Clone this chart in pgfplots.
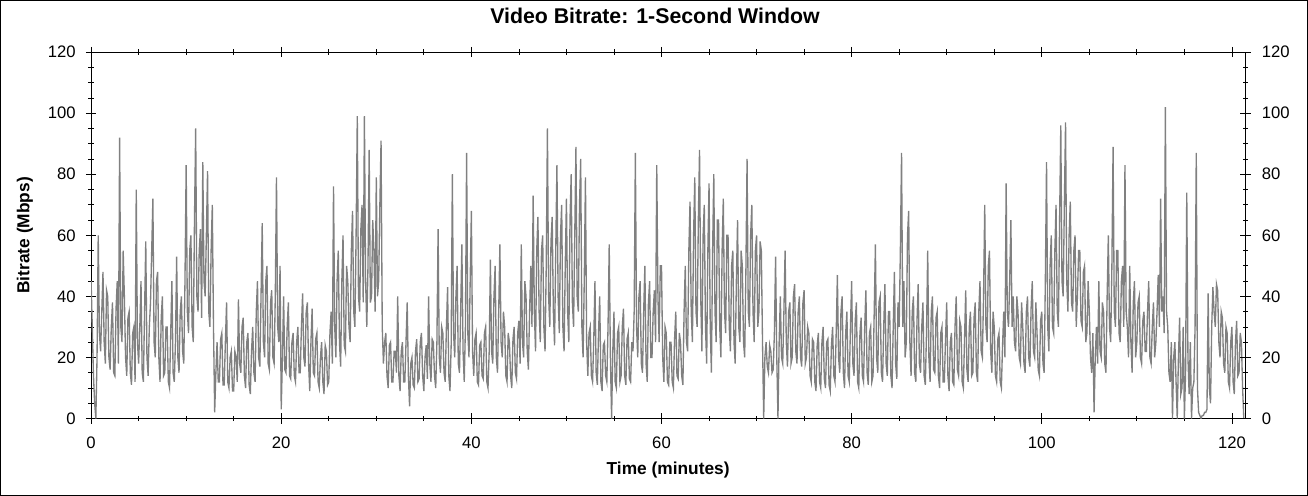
\documentclass[border=0pt]{standalone}
\usepackage{fontspec}
\setmainfont{Liberation Sans}
\usepackage{pgfplots}
\usepackage{pgfplotstable}
\pgfplotsset{compat=1.18}
% Bitrate (Mbps), sampled every 0.125 minute from t = 0 (8 values per minute)
\pgfplotstableread[row sep=\\]{y\\
45\\30\\14\\5\\0\\20\\60\\28\\ 22\\35\\48\\25\\18\\42\\40\\20\\ 16\\30\\38\\15\\14\\36\\45\\18\\
92\\30\\25\\55\\40\\20\\14\\33\\ 35\\15\\11\\28\\30\\12\\75\\25\\ 18\\30\\45\\15\\12\\35\\58\\20\\
14\\30\\38\\55\\72\\25\\20\\45\\ 48\\20\\12\\33\\40\\14\\15\\30\\ 30\\12\\10\\28\\45\\15\\12\\25\\
53\\20\\15\\35\\40\\22\\18\\45\\ 83\\35\\28\\55\\60\\30\\25\\65\\ 95\\40\\35\\55\\62\\33\\84\\45\\
40\\60\\81\\35\\30\\55\\70\\30\\ 2\\15\\25\\12\\12\\26\\28\\11\\ 11\\25\\38\\12\\10\\20\\22\\9\\
9\\22\\20\\12\\39\\18\\15\\30\\ 33\\14\\10\\25\\28\\11\\8\\22\\ 30\\15\\12\\35\\45\\20\\17\\40\\
64\\25\\20\\45\\50\\18\\16\\38\\ 42\\20\\18\\40\\79\\30\\25\\50\\ 3\\20\\40\\16\\15\\30\\38\\14\\
13\\25\\28\\14\\12\\25\\30\\15\\ 15\\30\\41\\20\\17\\35\\38\\18\\ 9\\25\\36\\15\\14\\26\\28\\12\\
10\\20\\25\\12\\8\\24\\22\\11\\ 12\\28\\35\\18\\76\\30\\20\\45\\ 55\\25\\17\\45\\60\\24\\22\\50\\
45\\30\\25\\55\\68\\35\\30\\60\\ 99\\40\\35\\62\\70\\38\\99\\45\\ 30\\50\\88\\38\\40\\65\\55\\35\\
79\\40\\45\\70\\91\\30\\18\\25\\ 28\\14\\10\\24\\25\\12\\12\\22\\ 22\\15\\40\\14\\9\\22\\25\\12\\
12\\25\\38\\14\\4\\18\\20\\11\\ 10\\22\\26\\12\\13\\25\\28\\14\\ 9\\20\\24\\13\\40\\18\\12\\26\\
25\\14\\10\\25\\62\\20\\15\\30\\ 28\\15\\12\\30\\43\\14\\9\\24\\ 80\\28\\20\\40\\50\\18\\15\\35\\
57\\22\\12\\30\\87\\28\\20\\45\\ 68\\22\\14\\26\\28\\12\\11\\24\\ 25\\14\\13\\28\\30\\12\\10\\22\\
52\\22\\18\\40\\50\\20\\15\\35\\ 57\\25\\20\\35\\30\\14\\12\\28\\ 25\\14\\10\\26\\30\\15\\13\\28\\
32\\18\\57\\25\\20\\45\\40\\22\\ 16\\35\\50\\30\\73\\35\\22\\55\\ 66\\35\\25\\55\\60\\30\\22\\50\\
95\\40\\30\\58\\66\\35\\24\\55\\ 83\\40\\28\\60\\70\\30\\22\\50\\ 72\\35\\25\\65\\80\\38\\30\\60\\
89\\40\\35\\70\\85\\30\\20\\45\\ 79\\25\\14\\28\\30\\14\\12\\26\\ 45\\15\\11\\28\\40\\12\\9\\24\\
25\\14\\12\\30\\57\\20\\0\\22\\ 35\\12\\10\\28\\30\\12\\14\\30\\ 36\\14\\11\\26\\28\\13\\12\\25\\
22\\35\\87\\30\\20\\40\\45\\18\\ 15\\35\\50\\18\\12\\38\\45\\20\\ 20\\35\\42\\25\\83\\40\\25\\50\\
50\\20\\12\\30\\28\\12\\11\\25\\ 25\\12\\10\\26\\35\\14\\13\\28\\ 25\\14\\11\\35\\50\\25\\22\\55\\
71\\35\\25\\60\\79\\35\\30\\65\\ 88\\40\\22\\60\\70\\30\\18\\55\\ 77\\30\\15\\55\\80\\35\\25\\65\\
65\\30\\20\\55\\72\\35\\28\\60\\ 60\\30\\22\\50\\55\\25\\18\\45\\ 65\\30\\25\\55\\50\\25\\20\\48\\
85\\35\\30\\60\\70\\35\\25\\55\\ 60\\30\\35\\58\\55\\25\\0\\20\\ 25\\17\\15\\24\\22\\15\\16\\28\\
53\\20\\0\\25\\40\\20\\18\\35\\ 55\\25\\17\\35\\38\\18\\20\\40\\ 44\\22\\18\\35\\40\\20\\17\\38\\
42\\18\\20\\30\\28\\14\\12\\26\\ 25\\12\\9\\24\\28\\12\\10\\25\\ 30\\13\\10\\25\\26\\11\\9\\24\\
30\\14\\12\\28\\47\\20\\15\\35\\ 40\\15\\10\\28\\35\\14\\12\\30\\ 45\\18\\14\\32\\38\\12\\10\\28\\
33\\14\\12\\30\\42\\15\\11\\28\\ 30\\12\\14\\35\\57\\20\\15\\38\\ 40\\15\\12\\30\\44\\18\\14\\35\\
35\\14\\10\\30\\48\\18\\13\\38\\ 30\\55\\87\\30\\45\\20\\25\\60\\ 68\\25\\14\\35\\40\\15\\12\\32\\
44\\18\\15\\30\\38\\14\\11\\28\\ 55\\20\\12\\35\\40\\16\\15\\33\\ 35\\14\\10\\28\\30\\12\\12\\26\\
38\\14\\9\\25\\28\\12\\11\\30\\ 40\\16\\14\\32\\30\\12\\10\\26\\ 42\\16\\12\\30\\35\\14\\15\\33\\
38\\15\\12\\35\\45\\22\\20\\40\\ 70\\30\\25\\50\\55\\22\\15\\35\\ 30\\14\\12\\26\\28\\12\\10\\24\\
35\\20\\77\\35\\30\\45\\65\\30\\ 40\\25\\22\\40\\35\\20\\18\\38\\ 30\\18\\15\\35\\40\\20\\17\\36\\
45\\22\\20\\38\\28\\16\\14\\32\\ 35\\18\\15\\45\\84\\30\\22\\50\\ 60\\30\\28\\55\\70\\35\\30\\65\\
96\\45\\40\\70\\97\\45\\35\\60\\ 71\\38\\35\\55\\60\\30\\40\\55\\ 55\\32\\30\\48\\50\\25\\28\\45\\
35\\20\\15\\28\\2\\20\\30\\18\\ 45\\22\\20\\38\\35\\18\\15\\40\\ 60\\30\\25\\50\\89\\35\\30\\55\\
55\\28\\25\\45\\50\\30\\83\\35\\ 30\\20\\50\\25\\15\\38\\45\\20\\ 25\\38\\40\\20\\18\\32\\35\\22\\
22\\35\\45\\20\\18\\30\\38\\20\\ 25\\35\\47\\30\\72\\35\\40\\28\\ 102\\35\\30\\15\\12\\25\\0\\20\\
25\\12\\0\\20\\33\\8\\10\\30\\ 0\\15\\74\\20\\8\\25\\0\\10\\ 12\\30\\87\\10\\2\\1\\0\\1\\
1\\2\\2\\3\\41\\10\\5\\30\\ 43\\35\\30\\44\\42\\25\\20\\35\\ 33\\18\\15\\30\\28\\12\\10\\25\\
30\\12\\8\\25\\32\\14\\15\\28\\ 25\\10\\0\\
}\bitrate
\begin{document}
\begin{tikzpicture}
\pgfplotsset{
  common/.style={
    scale only axis, width=866.25pt, height=275pt,
    at={(0,0)}, anchor=south west,
    xmin=0, xmax=121.4, ymin=0, ymax=120,
    xtick={0,20,...,120}, ytick={0,20,...,120},
    minor x tick num=3, minor y tick num=3,
    tick align=center, major tick length=8pt, minor tick length=4pt,
    tick style={black, line width=0.6pt},
    axis line style={black, line width=0.75pt},
    ticklabel style={font=\fontsize{12.5}{14}\selectfont},
    xticklabel style={yshift=-6pt},
    /pgf/number format/assume math mode=true,
  }
}
\begin{axis}[common,
  yticklabel style={xshift=-4pt},
  title={Video Bitrate: 1-Second Window},
  title style={font=\bfseries\fontsize{16}{19}\selectfont, at={(axis description cs:0.4886,1.0564)}, anchor=base, yshift=0pt},
  xlabel={Time (minutes)},
  xlabel style={font=\bfseries\fontsize{13}{15}\selectfont, at={(axis description cs:0.5,-0.152)}, anchor=base},
  ylabel={Bitrate (Mbps)},
  ylabel style={font=\bfseries\fontsize{13}{15}\selectfont, at={(axis description cs:-0.0535,0.5)}, anchor=base, rotate=0},
]
\addplot[color={rgb,255:red,128;green,128;blue,128}, line width=1pt] table[x expr=\coordindex*0.125, y=y]{\bitrate};
\end{axis}
\begin{axis}[common, axis y line*=right, axis x line=none, yticklabel pos=right, yticklabel style={xshift=5pt}]
\end{axis}
\draw[line width=0.75pt] (-68pt,-57.5pt) rectangle (913pt,313.75pt);
\end{tikzpicture}
\end{document}
